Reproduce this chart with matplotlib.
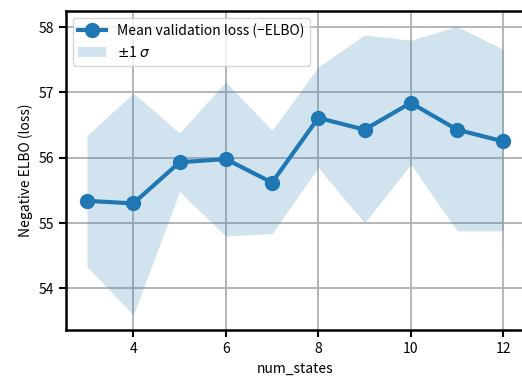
import matplotlib
matplotlib.use("Agg")
import matplotlib.pyplot as plt

plt.rcParams['font.family'] = ['Noto Sans CJK JP', 'DejaVu Sans']
plt.rcParams['axes.unicode_minus'] = True
plt.rcParams['mathtext.fontset'] = 'dejavusans'

num_states = [3, 4, 5, 6, 7, 8, 9, 10, 11, 12]
mean_loss = [55.34, 55.30, 55.93, 55.98, 55.62, 56.61, 56.43, 56.84, 56.43, 56.25]
upper = [56.34, 56.99, 56.38, 57.16, 56.42, 57.39, 57.88, 57.80, 58.01, 57.66]
lower = [54.33, 53.59, 55.48, 54.80, 54.84, 55.85, 55.00, 55.90, 54.88, 54.88]

fig = plt.figure(figsize=(5.22, 3.83), dpi=100)
ax = fig.add_axes([0.126, 0.138, 0.878, 0.833])

ax.fill_between(num_states, lower, upper, color='#1f77b4', alpha=0.2, linewidth=0,
                label=r'$\pm$1 $\sigma$')
ax.plot(num_states, mean_loss, '-o', color='#1f77b4', linewidth=3, markersize=10,
        label='Mean validation loss (−ELBO)')

ax.set_xlim(2.54, 12.45)
ax.set_ylim(53.36, 58.245)
ax.set_xticks([4, 6, 8, 10, 12])
ax.set_yticks([54, 55, 56, 57, 58])
ax.grid(True, color='#b0b0b0', linewidth=1.3)
ax.set_axisbelow(True)
for s in ax.spines.values():
    s.set_linewidth(1.8)
ax.tick_params(width=1.5, length=5, labelsize=10)
ax.set_xlabel('num_states', fontsize=10)
ax.set_ylabel('Negative ELBO (loss)', fontsize=10)

handles, labels = ax.get_legend_handles_labels()
ax.legend(handles[::-1], labels[::-1], loc='upper left', fontsize=10, framealpha=0.8)

fig.savefig('out.png', dpi=100)
